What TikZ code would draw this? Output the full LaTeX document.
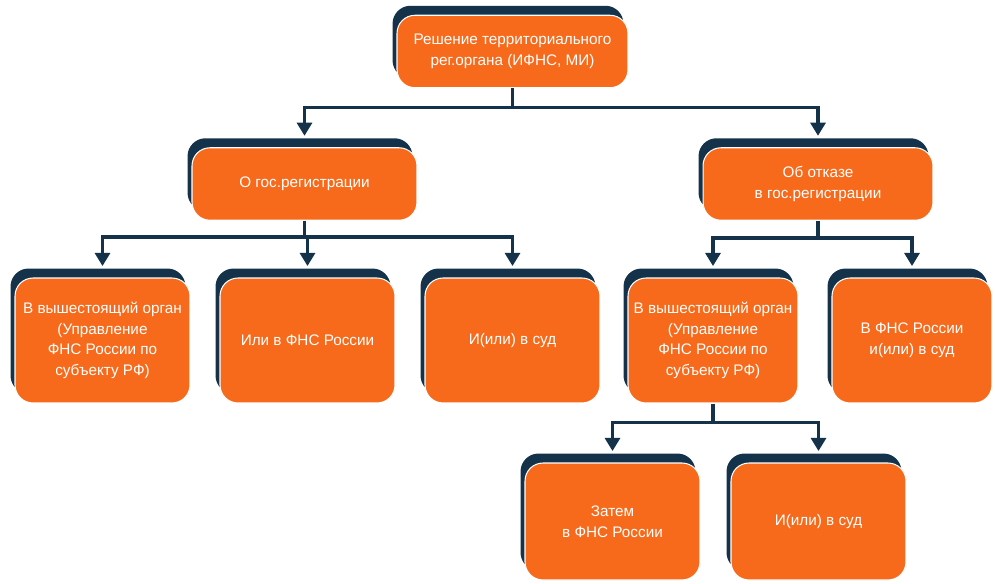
\documentclass[tikz,border=0pt]{standalone}
\usepackage{fontspec}
\setmainfont{Liberation Sans}
\usetikzlibrary{arrows.meta, shadows}
\definecolor{boxorange}{HTML}{F76A1B}
\definecolor{linenavy}{HTML}{14334A}

\begin{document}
\begin{tikzpicture}[x=0.02cm, y=-0.02cm,
        box/.style={fill=boxorange, draw=white, line width=0.6pt, rounded corners=0.36cm, align=center, text=white,
            font=\fontsize{8.7}{11.8}\selectfont, inner sep=2pt,
            drop shadow={shadow xshift=-0.09cm, shadow yshift=0.19cm, fill=linenavy, opacity=1}},
        headbox/.style={box, minimum height=1.45cm},
        leafbox/.style={box, minimum width=3.5cm, minimum height=2.5cm},
        lowbox/.style={box, minimum width=3.5cm, minimum height=2.34cm},
        link/.style={-{Triangle[length=7.5pt, width=8.5pt]}, draw=linenavy, line width=2pt, shorten >=6.5pt}
    ]
        \useasboundingbox (0,0) rectangle (995,583);

        % top
        \node[headbox, minimum width=4.62cm] (resh) at (512.5,51.5) {Решение территориального\\рег.органа (ИФНС, МИ)};

        % second row
        \node[headbox, minimum width=4.5cm] (gos) at (304.5,184) {О гос.регистрации};
        \node[headbox, minimum width=4.6cm] (otkaz) at (818,184) {Об отказе\\в гос.регистрации};

        % third row
        \node[leafbox] (vyshA) at (102.5,340.5) {В вышестоящий орган\\(Управление\\ФНС России по\\субъекту РФ)};
        \node[leafbox] (fnsA) at (307.5,340.5) {Или в ФНС России};
        \node[leafbox] (sudA) at (512.5,340.5) {И(или) в суд};
        \node[leafbox, minimum width=3.4cm] (vyshB) at (713,340.5) {В вышестоящий орган\\(Управление\\ФНС России по\\субъекту РФ)};
        \node[leafbox, minimum width=3.2cm] (fnsB) at (912,340.5) {В ФНС России\\и(или) в суд};

        % fourth row
        \node[lowbox] (zatem) at (612.5,521.5) {Затем\\в ФНС России};
        \node[lowbox] (sudB) at (818.5,521.5) {И(или) в суд};

        % arrows
        \draw[link] (resh.south) -- ++(0,19) -| (gos.north);
        \draw[link] (resh.south) -- ++(0,19) -| (otkaz.north);

        \draw[link] (gos.south) -- ++(0,16) -| (vyshA.north);
        \draw[link] (gos.south) -- ++(0,16) -| (fnsA.north);
        \draw[link] (gos.south) -- ++(0,16) -| (sudA.north);

        \draw[link] (otkaz.south) -- ++(0,17) -| (vyshB.north);
        \draw[link] (otkaz.south) -- ++(0,17) -| (fnsB.north);

        \draw[link] (vyshB.south) -- ++(0,19) -| (zatem.north);
        \draw[link] (vyshB.south) -- ++(0,19) -| (sudB.north);

    \end{tikzpicture}
\end{document}
